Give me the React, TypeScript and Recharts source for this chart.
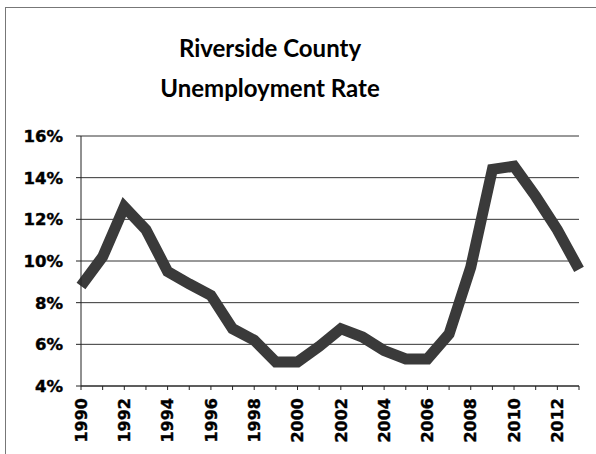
import { LineChart, Line, XAxis, YAxis, CartesianGrid } from "recharts";

const years = [
  1990, 1991, 1992, 1993, 1994, 1995, 1996, 1997, 1998, 1999, 2000, 2001,
  2002, 2003, 2004, 2005, 2006, 2007, 2008, 2009, 2010, 2011, 2012, 2013,
];
const rates = [
  8.8, 10.2, 12.6, 11.5, 9.5, 8.9, 8.35, 6.75, 6.2, 5.15, 5.15, 5.9,
  6.75, 6.35, 5.7, 5.3, 5.3, 6.5, 9.7, 14.4, 14.55, 13.1, 11.5, 9.6,
];
const yTicks = [4, 6, 8, 10, 12, 14, 16];

const data = years.map((year, i) => ({ year, rate: rates[i] }));

const labelFont = "'DejaVu Sans', sans-serif";

const YearTick = ({ x, y, payload }: any) => {
  if (payload.value % 2 !== 0) return null;
  return (
    <text
      x={x}
      y={y}
      transform={`rotate(-90, ${x}, ${y})`}
      textAnchor="end"
      dy="0.36em"
      style={{ fontSize: "16px", fontWeight: "bold", fontFamily: labelFont }}
      fill="#000"
      stroke="#000"
      strokeWidth={0.4}
    >
      {payload.value}
    </text>
  );
};

const PercentTick = ({ x, y, payload }: any) => (
  <text
    x={x}
    y={y}
    textAnchor="end"
    dy="0.36em"
    style={{ fontSize: "16.5px", fontWeight: "bold", fontFamily: labelFont }}
    fill="#000"
    stroke="#000"
    strokeWidth={0.4}
  >
    {`${payload.value}%`}
  </text>
);

export default function App() {
  return (
    <div
      style={{
        position: "relative",
        width: 596,
        height: 454,
        overflow: "hidden",
        background: "#fff",
      }}
    >
      <style>{"body{margin:0}"}</style>
      <div
        style={{
          position: "absolute",
          left: 5,
          top: 7,
          width: 620,
          height: 480,
          borderLeft: "1px solid #777",
          borderTop: "1px solid #777",
        }}
      />
      <div
        style={{
          position: "absolute",
          left: 120,
          top: 28,
          width: 300,
          textAlign: "center",
          fontFamily: "Lato, 'Open Sans', sans-serif",
          fontWeight: "bold",
          fontSize: 24,
          lineHeight: "40px",
          color: "#000",
        }}
      >
        Riverside County
        <br />
        Unemployment Rate
      </div>
      <div style={{ position: "absolute", left: 0, top: 0 }}>
        <LineChart
          width={596}
          height={454}
          data={data}
          margin={{ top: 136, right: 17, bottom: 0, left: 0 }}
        >
          <CartesianGrid vertical={false} stroke="#333" strokeWidth={1} />
          <XAxis
            dataKey="year"
            interval={0}
            height={68}
            tickSize={4}
            tickMargin={8}
            tick={<YearTick />}
            axisLine={{ stroke: "#222" }}
            tickLine={{ stroke: "#222" }}
          />
          <YAxis
            domain={[4, 16]}
            ticks={yTicks}
            width={81}
            tickSize={5}
            tickMargin={13}
            tick={<PercentTick />}
            axisLine={{ stroke: "#222" }}
            tickLine={{ stroke: "#222" }}
          />
          <Line
            dataKey="rate"
            stroke="#3a3a3a"
            strokeWidth={11}
            dot={false}
            isAnimationActive={false}
          />
        </LineChart>
      </div>
    </div>
  );
}
